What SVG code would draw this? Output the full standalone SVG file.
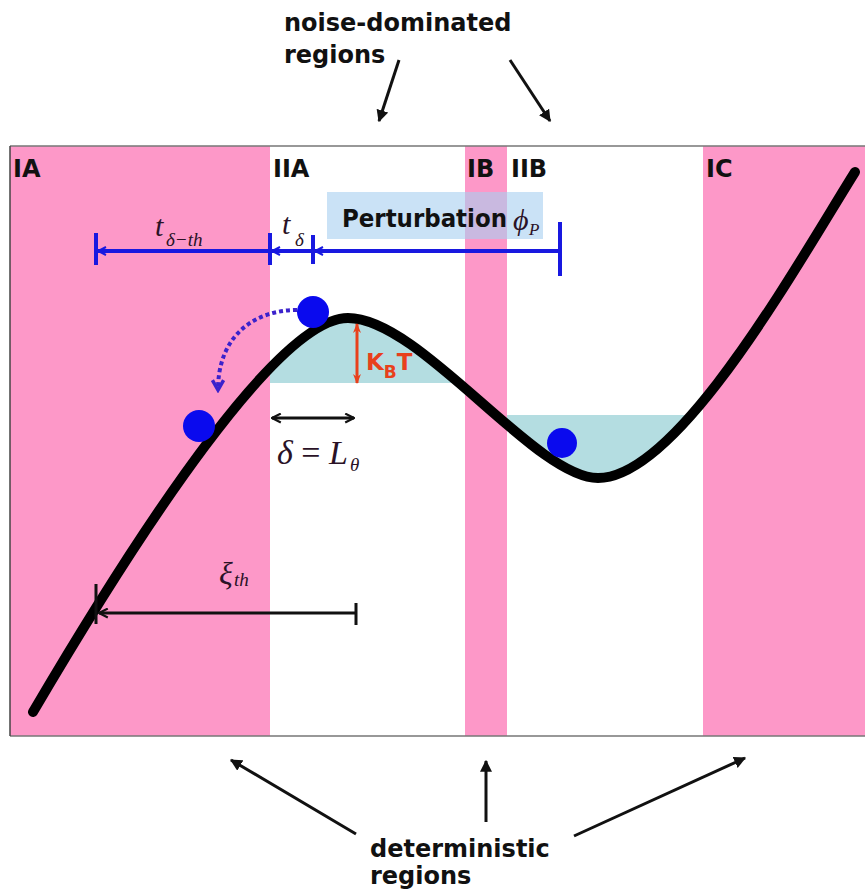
<svg xmlns="http://www.w3.org/2000/svg" width="865" height="896" viewBox="0 0 865 896">
<style>
.lbl{font-family:"DejaVu Sans","Liberation Sans",sans-serif;font-weight:bold;font-size:24px;fill:#111}
.math{font-family:"Liberation Serif","DejaVu Serif",serif;font-style:italic;fill:#2a1226}
.pink{fill:#fd98c8}
.water{fill:#b4dde1}
.ball{fill:#0a0aee}
.dim{stroke:#1818e0;stroke-width:4;fill:none}
.blk{stroke:#111;stroke-width:3;fill:none}
</style>
<defs>
<marker id="blueHead" viewBox="0 0 10 10" refX="9" refY="5" markerWidth="10" markerHeight="10" markerUnits="userSpaceOnUse" orient="auto-start-reverse">
<path d="M1,1 L9,5 L1,9" fill="none" stroke="#1818e0" stroke-width="2"/>
</marker>
<marker id="blkOpen" viewBox="0 0 10 10" refX="9" refY="5" markerWidth="11" markerHeight="11" markerUnits="userSpaceOnUse" orient="auto-start-reverse">
<path d="M1,1 L9,5 L1,9" fill="none" stroke="#111" stroke-width="2"/>
</marker>
<marker id="blkTri" viewBox="0 0 10 10" refX="9" refY="5" markerWidth="12" markerHeight="12" markerUnits="userSpaceOnUse" orient="auto-start-reverse">
<path d="M0,0 L10,5 L0,10 Z" fill="#111"/>
</marker>
<marker id="redTri" viewBox="0 0 10 10" refX="9" refY="5" markerWidth="10" markerHeight="10" markerUnits="userSpaceOnUse" orient="auto-start-reverse">
<path d="M0,1 L10,5 L0,9 L3,5 Z" fill="#e8401c"/>
</marker>
<marker id="dotHead" viewBox="0 0 10 10" refX="8" refY="5" markerWidth="14" markerHeight="14" markerUnits="userSpaceOnUse" orient="auto">
<path d="M1,1 L8,5 L1,9" fill="none" stroke="#3b22cc" stroke-width="2.5"/>
</marker>
<clipPath id="capClip"><rect x="0" y="0" width="865" height="383"/></clipPath>
<clipPath id="valClip"><rect x="465" y="415" width="400" height="300"/></clipPath>
<path id="curveL" d="M33,712 C140,530 278,318 348,318 C420,318 535,478 598,478 C678,478 795,268 855,172"/>
</defs>

<g id="background">
<rect x="0" y="0" width="865" height="896" fill="#fff"/>
</g>

<g id="water">
<path class="water" clip-path="url(#capClip)" d="M33,712 C140,530 278,318 348,318 C420,318 535,478 598,478 Z"/>
<path class="water" clip-path="url(#valClip)" d="M348,318 C420,318 535,478 598,478 C678,478 795,268 855,172 Z"/>
</g>

<g id="regions">
<rect id="region-IA" class="pink" x="10" y="146" width="260" height="590"/>
<rect id="region-IB" class="pink" x="465" y="146" width="42" height="590"/>
<rect id="region-IC" class="pink" x="703" y="146" width="162" height="590"/>
<path d="M10,146 L865,146 M10,736 L865,736" stroke="#777" stroke-width="1.5" fill="none"/>
<path d="M10,146 L10,736" stroke="#444" stroke-width="1.5" fill="none"/>
</g>

<g id="perturbation-box">
<rect x="327" y="192" width="216" height="47" fill="#a6cef0" fill-opacity="0.6"/>
<text class="lbl" x="342" y="227" textLength="165" lengthAdjust="spacingAndGlyphs">Perturbation</text>
<text class="math" x="513" y="230" font-size="30" fill="#223">ϕ</text>
<text class="math" x="529" y="235" font-size="17" fill="#223">P</text>
</g>

<g id="region-labels">
<text class="lbl" x="13" y="177">IA</text>
<text class="lbl" x="273" y="177">IIA</text>
<text class="lbl" x="467" y="177">IB</text>
<text class="lbl" x="511" y="177">IIB</text>
<text class="lbl" x="706" y="177">IC</text>
</g>

<g id="energy-curve">
<use href="#curveL" fill="none" stroke="#000" stroke-width="10" stroke-linecap="round"/>
</g>

<g id="balls">
<circle id="ball-top" class="ball" cx="313" cy="312" r="16"/>
<circle id="ball-left" class="ball" cx="199" cy="426" r="16"/>
<circle id="ball-valley" class="ball" cx="562" cy="443" r="15"/>
</g>

<g id="connectors">
<line class="dim" x1="98" y1="251" x2="270" y2="251" marker-start="url(#blueHead)"/>
<line class="dim" x1="272" y1="251" x2="313" y2="251" marker-start="url(#blueHead)"/>
<line class="dim" x1="315" y1="251" x2="560" y2="251" marker-start="url(#blueHead)"/>
<path class="dim" d="M96,233 L96,265 M270,233 L270,265 M313,235 L313,264 M560,222 L560,276"/>
<path d="M297,310 C255,310 218,335 218,390" fill="none" stroke="#3b22cc" stroke-width="4" stroke-dasharray="4 3" marker-end="url(#dotHead)"/>
<line x1="357" y1="324" x2="357" y2="383" stroke="#e8401c" stroke-width="3" marker-start="url(#redTri)" marker-end="url(#redTri)"/>
<line class="blk" x1="272" y1="418" x2="354" y2="418" marker-start="url(#blkOpen)" marker-end="url(#blkOpen)"/>
<line class="blk" x1="99" y1="613" x2="356" y2="613" marker-start="url(#blkOpen)"/>
<path class="blk" d="M356,603 L356,625 M96,584 L96,624"/>
<line class="blk" x1="399" y1="60" x2="379" y2="121" marker-end="url(#blkTri)"/>
<line class="blk" x1="510" y1="60" x2="550" y2="121" marker-end="url(#blkTri)"/>
<line class="blk" x1="356" y1="834" x2="231" y2="760" marker-end="url(#blkTri)"/>
<line class="blk" x1="486" y1="822" x2="486" y2="761" marker-end="url(#blkTri)"/>
<line class="blk" x1="574" y1="836" x2="745" y2="758" marker-end="url(#blkTri)"/>
</g>

<g id="math-labels">
<text class="math" x="155" y="236" font-size="30">t</text>
<text class="math" x="166" y="246" font-size="19">δ−th</text>
<text class="math" x="282" y="234" font-size="30">t</text>
<text class="math" x="295" y="246" font-size="19">δ</text>
<text class="math" x="277" y="464" font-size="34" fill="#1a1a1a">δ <tspan font-style="normal">=</tspan> L</text>
<text class="math" x="350" y="471" font-size="19" fill="#1a1a1a">θ</text>
<text class="math" x="219" y="584" font-size="32">ξ</text>
<text class="math" x="234" y="586" font-size="19">th</text>
<text x="366" y="370" font-family="DejaVu Sans, sans-serif" font-weight="bold" font-size="23" fill="#e8401c">K<tspan font-size="17" dy="8">B</tspan><tspan dy="-8">T</tspan></text>
</g>

<g id="annotations">
<text class="lbl" x="284" y="31">noise-dominated</text>
<text class="lbl" x="284" y="63">regions</text>
<text class="lbl" x="370" y="857">deterministic</text>
<text class="lbl" x="370" y="884">regions</text>
</g>
</svg>
